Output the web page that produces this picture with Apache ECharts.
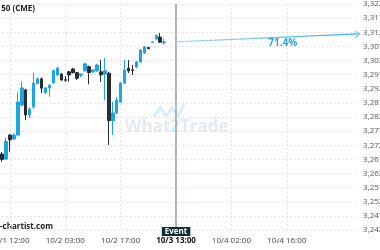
<!DOCTYPE html>
<html><head><meta charset="utf-8">
<script src="https://cdn.jsdelivr.net/npm/echarts@6/dist/echarts.min.js"></script>
<style>html,body{margin:0;padding:0;background:#fff}#c{width:380px;height:250px}</style>
</head><body><div id="c"></div>
<script>
// hourly candles (index 0 .. 41)
const opens  = [3268.9,3267.1,3275.6,3274.2,3275.6,3286.2,3291.6,3282.7,3285.6,3293.9,3295.5,3290.6,3292.3,3294.1,3296.9,3297.2,3295.2,3298.0,3299.0,3297.7,3296.8,3298.4,3299.8,3298.0,3298.4,3298.0,3297.2,3297.5,3280.7,3283.4,3287.3,3294.0,3299.3,3298.7,3299.7,3301.5,3304.7,3306.6,3308.4,3309.6,3310.3,3308.3];
const closes = [3267.0,3273.3,3273.9,3275.6,3287.3,3292.3,3282.7,3284.8,3294.0,3295.5,3292.2,3292.3,3293.3,3298.4,3299.3,3295.1,3295.0,3296.9,3297.7,3295.7,3297.2,3300.8,3297.7,3298.6,3300.4,3296.9,3298.4,3280.7,3283.4,3288.0,3294.0,3298.6,3298.3,3298.5,3301.5,3305.7,3306.8,3306.2,3308.6,3310.9,3308.5,3308.6];
const lows   = [3266.1,3266.8,3269.7,3273.9,3275.3,3285.8,3280.9,3281.6,3285.0,3293.5,3290.5,3290.2,3289.2,3293.8,3296.5,3294.8,3294.5,3294.5,3297.4,3295.1,3296.0,3298.0,3293.6,3297.6,3298.0,3294.4,3288.0,3272.1,3275.6,3283.0,3286.9,3293.6,3297.6,3296.9,3299.3,3301.2,3304.3,3306.0,3308.4,3309.4,3308.2,3307.5];
const highs  = [3269.6,3274.6,3276.0,3276.3,3290.6,3294.5,3292.0,3285.5,3297.6,3295.9,3296.0,3292.6,3293.6,3298.8,3299.8,3297.6,3296.4,3298.3,3299.4,3298.0,3297.3,3301.3,3300.2,3299.0,3300.8,3302.2,3302.9,3298.0,3287.4,3289.1,3294.4,3302.2,3302.2,3300.4,3301.9,3306.1,3307.2,3306.8,3308.6,3311.2,3311.7,3309.6];

const slotCount = 91;                       // hourly slots incl. future
const tickIdx    = [2, 16, 30, 44, 58, 72];
const tickLabels = ['10/1 12:00','10/2 03:00','10/2 17:00','10/3 13:00','10/4 02:00','10/4 16:00'];
const eventIdx = 44;
const eventLabel = 'Event';

const projFrom = [44, 3308.6];
const projTo   = [90, 3311.4];
const projText = '71.4%';
const projTextAt = [71, 3308.2];

const yMin = 3242, yMax = 3322, yStep = 5;

const categories = Array.from({length: slotCount}, (_, i) => i);
const candleData = opens.map((o, i) => [o, closes[i], lows[i], highs[i]]);

function fmt(v){ const s = String(Math.round(v)); return s.replace(/\B(?=(\d{3})+(?!\d))/g, ','); }

const FONT = 'Open Sans';
const chart = echarts.init(document.getElementById('c'), null, {renderer:'canvas'});
chart.setOption({
  animation: false,
  backgroundColor: '#ffffff',
  textStyle: { fontFamily: FONT },
  grid: { left: 2, right: 22, top: 4, bottom: 20, containLabel: false, outerBoundsMode: 'none' },
  xAxis: {
    type: 'category', data: categories, boundaryGap: false,
    axisLine: { show: false }, axisTick: { show: false },
    axisLabel: {
      interval: (i) => tickIdx.includes(i), hideOverlap: false,
      margin: 7, fontSize: 8, color: '#444', fontFamily: FONT,
      formatter: (v) => {
        const k = tickIdx.indexOf(Number(v));
        if (k < 0) return '';
        return Number(v) === eventIdx ? '{b|' + tickLabels[k] + '}' : tickLabels[k];
      },
      rich: { b: { fontWeight: 'bold', color: '#111', fontSize: 8, fontFamily: FONT } }
    },
    splitLine: { show: true, interval: (i) => tickIdx.includes(i) && i !== eventIdx,
      lineStyle: { color: '#e4e4e4', type: [2, 2], width: 1 } }
  },
  yAxis: {
    type: 'value', position: 'right', min: yMin, max: yMax, interval: yStep,
    axisLine: { show: false }, axisTick: { show: false },
    axisLabel: { margin: 5, fontSize: 8, color: '#555', fontFamily: FONT, formatter: fmt,
      hideOverlap: false, showMinLabel: true, showMaxLabel: true },
    splitLine: { show: true, lineStyle: { color: '#e4e4e4', type: [2, 2], width: 1 } }
  },
  graphic: [
    { type: 'text', left: 125, top: 119, silent: true, z: 0,
      style: { text: '{g|What}{b|2}{g|Trade}', rich: {
        g: { fill: '#e6e9ec', fontSize: 17, fontWeight: 'bold', fontFamily: FONT },
        b: { fill: '#d5ecf8', fontSize: 17, fontWeight: 'bold', fontFamily: FONT } } } },
    { type: 'polyline', silent: true, z: 0,
      shape: { points: [[154,116],[160,108],[166,116],[172,108],[178,116],[184,104]] },
      style: { stroke: '#d8eef9', lineWidth: 3, fill: null } },
    { type: 'text', right: 345, top: 5, silent: true,
      style: { text: 'Euro Stoxx 50 (CME)', fill: '#222', fontSize: 8, fontWeight: 'bold', fontFamily: FONT } },
    { type: 'text', right: 327, top: 223, silent: true,
      style: { text: 'futures-chartist.com', fill: '#222', fontSize: 8, fontWeight: 'bold', fontFamily: FONT } }
  ],
  series: [
    {
      type: 'candlestick', data: candleData, barWidth: 3, z: 3,
      itemStyle: { color: '#1aa6e4', borderColor: '#1aa6e4', color0: '#2a2d33', borderColor0: '#2a2d33', borderWidth: 1 },
      markLine: {
        silent: true, symbol: ['none', 'none'], animation: false,
        lineStyle: { color: '#8ea3a6', width: 1.5, type: 'solid' },
        label: { show: true, position: 'start', distance: -3, formatter: eventLabel,
          color: '#fff', fontWeight: 'bold', fontSize: 8, fontFamily: FONT,
          backgroundColor: '#0f2e37', padding: [1, 3, 0, 3] },
        emphasis: { disabled: true },
        data: [{ xAxis: eventIdx }]
      }
    },
    {
      type: 'line', data: [], z: 4,
      markLine: {
        silent: true, animation: false,
        symbol: ['none', 'path://M0,10 L5,0 L10,10 L8.4,10 L5,3.2 L1.6,10 Z'], symbolSize: [8, 6],
        lineStyle: { width: 1.2, type: 'solid',
          color: new echarts.graphic.LinearGradient(0, 0, 1, 0, [{offset: 0, color: '#a7dbf4'}, {offset: 1, color: '#34ade6'}]) },
        label: { show: false },
        data: [[{ coord: projFrom }, { coord: projTo }]]
      },
      markPoint: {
        silent: true, symbol: 'circle', symbolSize: 0, animation: false,
        label: { show: true, position: 'inside', formatter: projText, color: '#2aa5e2',
          fontWeight: 'bold', fontSize: 10, fontFamily: FONT },
        data: [{ coord: projTextAt }]
      }
    }
  ]
});
</script></body></html>
